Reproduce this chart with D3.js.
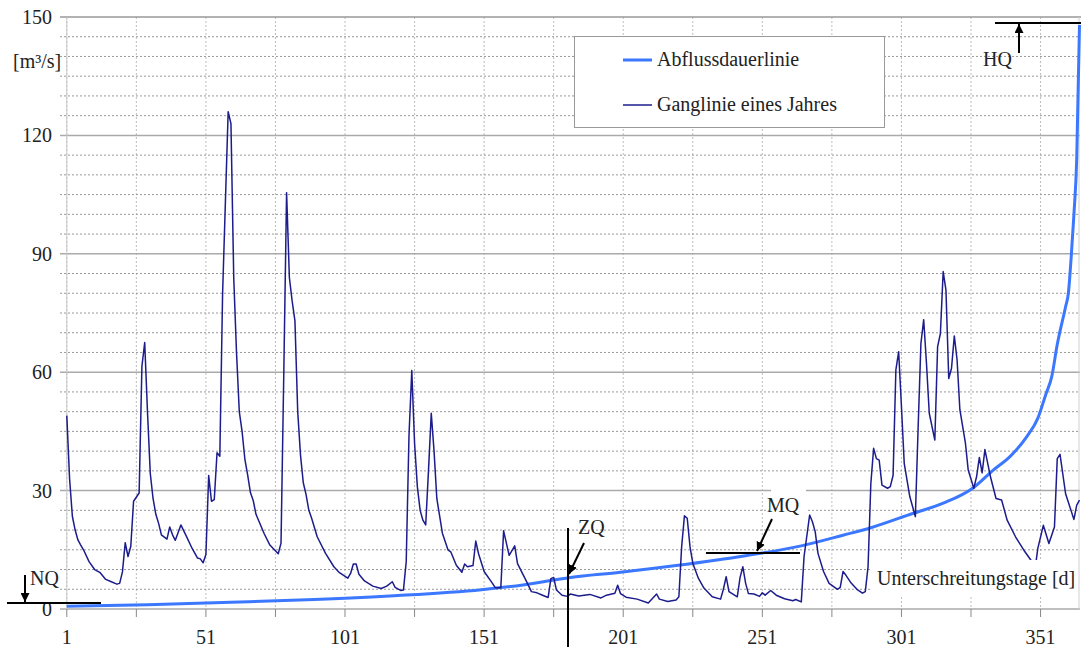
<!DOCTYPE html>
<html>
<head>
<meta charset="utf-8">
<script src="https://cdn.jsdelivr.net/npm/d3@7"></script>
<style>
body{margin:0;background:#fff;}
svg text{font-family:"Liberation Serif","Times New Roman",serif;font-size:20px;fill:#222;}
</style>
</head>
<body>
<svg id="chart" width="1081" height="649"></svg>
<script>
// Ganglinie eines Jahres: Tag / Abfluss [m³/s]
const gangDays = [1,2,3,4,5,6,7,9,11,13,15,17,19,20,21,22,23,24,25,27,28,29,30,31,32,33,34,35,37,38,39,40,42,44,46,48,49,50,
  51,52,53,54,55,56,57,58,59,60,61,62,63,64,65,66,67,68,69,72,74,77,78,79,80,81,82,83,84,85,86,87,88,89,91,94,97,99,
  102,103,104,105,106,108,111,114,116,118,119,121,122,123,124,125,126,127,128,129,130,131,132,133,134,136,138,139,141,143,144,145,147,148,149,
  151,154,155,157,158,160,162,163,166,168,170,172,174,175,176,177,179,181,182,185,189,193,195,198,199,200,
  202,206,210,213,214,217,220,221,222,223,224,225,226,228,230,233,236,237,238,239,242,243,244,245,246,248,250,
  251,252,254,256,259,262,263,265,266,268,269,270,271,273,275,278,279,280,281,283,285,287,288,289,290,291,292,293,294,296,297,298,299,300,
  301,302,304,306,307,308,309,310,311,313,314,315,316,317,318,319,320,321,322,324,325,327,328,329,330,331,333,335,337,339,342,345,348,349,350,
  352,354,356,357,358,360,363,364,365];
const gangQ = [49,33,23.5,20,17.5,16.2,15,12,10,9.2,7.5,6.9,6.3,6.5,9.4,16.8,13.3,15.9,27.3,29.4,61.5,67.5,50,34.4,28,24,21.7,18.8,17.7,20.8,18.8,17.4,21.3,18.4,15.4,12.9,12.7,11.7,
  13.8,33.8,27.3,27.7,39.6,38.7,80,103,126,123,84,65,50,45,38,34,29.5,27.5,24,19,16.2,14,16.7,60,105.5,84,78,73,50,39,32,29,25,23,18.3,14.1,10.7,9.2,
  7.8,9,11.4,11.4,8.8,7.1,5.8,5.2,5.8,6.9,5.5,4.7,4.8,12,44,60.4,42,31,25,22.5,21.3,35,49.6,40,28,19.2,15,14.5,11.1,9.3,11.4,10.7,11,17.2,14,
  9.5,6.5,5.4,5.4,19.8,13.6,16,11.5,7.3,4.4,4.1,3.5,2.9,7.7,8,4.8,3.5,3.2,3.8,3.3,3.7,2.8,3.5,4,6,3.9,
  3,2.5,1.5,3.8,2.5,1.9,2.3,3.1,15.8,23.6,23,15.8,11.6,7.8,5.3,3.1,2.5,5,8.2,4.4,3.1,8,10.7,6.5,3.9,3.8,3.2,
  4.1,3.5,4.7,3.5,2.6,2.1,2.4,1.8,13.3,23.8,22.1,19.6,14.1,9.5,6.5,5,5.5,9.5,8.6,6.5,5,4,4.4,10.7,31.8,40.7,38.1,37.7,31.4,30.6,31,33.9,60.6,65.2,
  51.3,36.9,28.5,23.4,46,67.3,73.3,62.2,49.6,42.8,66.5,69.8,85.5,80.8,58.4,61,69.2,63.1,50.5,42,35.2,30.6,33.5,38.4,34.5,40.4,33.5,28,27.6,22.5,18.3,14.9,11.9,10,15.3,
  21.2,16.6,20.8,38.1,39.2,29.2,22.7,26.3,27.6];

// Abflussdauerlinie: Unterschreitungstage / Abfluss [m³/s]
const dauerDays = [1,30,60,90,120,150,165,182,200,220,245,265,280,290,305,316,327,334,340,346,350,353,355,357,360,361,362,363,364,365];
const dauerQ = [0.7,1.1,1.7,2.4,3.4,4.9,6.1,8.0,9.3,11.0,13.5,16.0,18.7,20.6,24.2,26.8,30.8,35.2,38.6,43.6,48.3,54.6,58.8,67,76.6,80,89,100,114,148];

const xTickDays = [1,51,101,151,201,251,301,351];
const xGridDays = [1,26,51,76,101,126,151,176,201,226,251,276,301,326,351];
const yMajor = [0,30,60,90,120,150];
const yMinor = [5,10,15,20,25,35,40,45,50,55,65,70,75,80,85,95,100,105,110,115,125,130,135,140,145];

const svg = d3.select("#chart");
const x = d3.scaleLinear().domain([1,365]).range([66.8,1079.5]);
const y = d3.scaleLinear().domain([0,150]).range([609,17]);
const left = 60, right = 1080;

svg.append("rect").attr("width",1081).attr("height",649).attr("fill","#fff");

// arrow marker
svg.append("defs").append("marker")
    .attr("id","arrow")
    .attr("viewBox","0 0 10 10")
    .attr("refX",10).attr("refY",5)
    .attr("markerUnits","userSpaceOnUse")
    .attr("markerWidth",9).attr("markerHeight",9)
    .attr("orient","auto")
  .append("path").attr("d","M0,0 L10,5 L0,10 z").attr("fill","#000");

const grid = svg.append("g");
grid.selectAll("line.vgrid").data(xGridDays).join("line")
    .attr("class","vgrid")
    .attr("x1",d=>x(d)).attr("x2",d=>x(d))
    .attr("y1",y(150)).attr("y2",y(0))
    .attr("stroke","#bdbdbd").attr("stroke-width",1).attr("stroke-dasharray","2,2");

grid.selectAll("line.minor").data(yMinor).join("line")
    .attr("class","minor")
    .attr("x1",left).attr("x2",right)
    .attr("y1",d=>y(d)).attr("y2",d=>y(d))
    .attr("stroke","#999").attr("stroke-width",1).attr("stroke-dasharray","2,2");

grid.selectAll("line.major").data(yMajor).join("line")
    .attr("class","major")
    .attr("x1",left).attr("x2",d=>d===150?1081:right)
    .attr("y1",d=>y(d)).attr("y2",d=>y(d))
    .attr("stroke",d=>d===150?"#999":"#aaa").attr("stroke-width",1.5);

// axis frame
grid.append("line").attr("x1",x(1)).attr("x2",x(1)).attr("y1",y(150)).attr("y2",y(0))
    .attr("stroke","#c8c8c8").attr("stroke-width",1);
grid.append("line").attr("x1",1079).attr("x2",1079).attr("y1",y(150)).attr("y2",y(0))
    .attr("stroke","#cfcfcf").attr("stroke-width",1);
grid.selectAll("line.xtick").data(xGridDays).join("line")
    .attr("class","xtick")
    .attr("x1",d=>x(d)).attr("x2",d=>x(d))
    .attr("y1",y(0)).attr("y2",y(0)+8)
    .attr("stroke","#888").attr("stroke-width",1);

// y labels
svg.append("g").selectAll("text").data(yMajor).join("text")
    .attr("x",52).attr("y",d=>y(d)).attr("dy","0.35em")
    .attr("text-anchor","end").text(d=>d);
svg.append("text").attr("x",13).attr("y",68).text("[m³/s]");

// x labels
svg.append("g").selectAll("text").data(xTickDays).join("text")
    .attr("x",d=>x(d)).attr("y",644)
    .attr("text-anchor","middle").text(d=>d);

// curves
const dauer = dauerDays.map((d,i)=>({d, q: dauerQ[i]}));
const gang = gangDays.map((d,i)=>({d, q: gangQ[i]}));

svg.append("path").datum(dauer)
    .attr("fill","none").attr("stroke","#3b78ff").attr("stroke-width",3)
    .attr("d", d3.line().x(p=>x(p.d)).y(p=>y(p.q)).curve(d3.curveMonotoneX));

svg.append("path").datum(gang)
    .attr("fill","none").attr("stroke","#1c1c8c").attr("stroke-width",1.5)
    .attr("stroke-linejoin","round")
    .attr("d", d3.line().x(p=>x(p.d)).y(p=>y(p.q)));

// label boxes
svg.append("rect").attr("x",872).attr("y",560).attr("width",206).attr("height",36).attr("fill","#fff");
svg.append("text").attr("x",877).attr("y",585).text("Unterschreitungstage [d]");

svg.append("rect").attr("x",771).attr("y",486).attr("width",35).attr("height",34).attr("fill","#fff");
svg.append("text").attr("x",767).attr("y",512).text("MQ");

svg.append("text").attr("x",578).attr("y",534).text("ZQ");
svg.append("text").attr("x",983).attr("y",66).text("HQ");
svg.append("text").attr("x",30).attr("y",585).text("NQ");

// annotation lines
const ann = svg.append("g").attr("stroke","#000").attr("stroke-width",2);
// NQ
ann.append("line").attr("x1",7).attr("x2",101).attr("y1",603).attr("y2",603);
ann.append("line").attr("x1",25).attr("x2",25).attr("y1",575).attr("y2",602).attr("marker-end","url(#arrow)");
// ZQ
ann.append("line").attr("x1",568).attr("x2",568).attr("y1",528).attr("y2",647);
ann.append("line").attr("x1",584).attr("y1",543).attr("x2",569).attr("y2",574).attr("marker-end","url(#arrow)");
// MQ
ann.append("line").attr("x1",706).attr("x2",800).attr("y1",553).attr("y2",553);
ann.append("line").attr("x1",772).attr("y1",519).attr("x2",757).attr("y2",551).attr("marker-end","url(#arrow)");
// HQ
ann.append("line").attr("x1",995).attr("x2",1081).attr("y1",23).attr("y2",23);
ann.append("line").attr("x1",1019).attr("x2",1019).attr("y1",53).attr("y2",24).attr("marker-end","url(#arrow)");

// legend
const lg = svg.append("g");
lg.append("rect").attr("x",574.5).attr("y",36.5).attr("width",310).attr("height",91)
    .attr("fill","#fff").attr("stroke","#999").attr("stroke-width",1);
lg.append("line").attr("x1",623).attr("x2",652).attr("y1",60).attr("y2",60)
    .attr("stroke","#3b78ff").attr("stroke-width",3);
lg.append("line").attr("x1",623).attr("x2",652).attr("y1",105).attr("y2",105)
    .attr("stroke","#1c1c8c").attr("stroke-width",1.5);
lg.append("text").attr("x",657).attr("y",66).text("Abflussdauerlinie");
lg.append("text").attr("x",657).attr("y",111).text("Ganglinie eines Jahres");
</script>
</body>
</html>
